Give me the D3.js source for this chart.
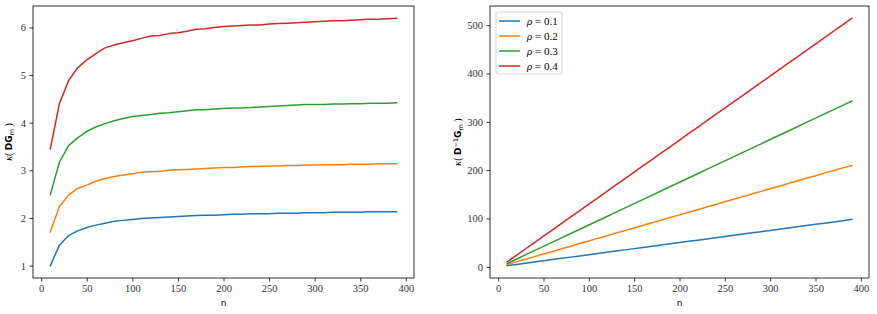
<!DOCTYPE html>
<html>
<head>
<meta charset="utf-8">
<script src="https://cdnjs.cloudflare.com/ajax/libs/d3/7.8.5/d3.min.js"></script>
<style>
    body { margin: 0; background: #fff; }
    text { font-family: "Liberation Serif", "DejaVu Serif", serif; }
</style>
</head>
<body>
<div id="chart"></div>
<script>

// data
var nValues = [10, 20, 30, 40, 50, 60, 70, 80, 90, 100, 110, 120, 130, 140, 150, 160, 170, 180, 190, 200,
    210, 220, 230, 240, 250, 260, 270, 280, 290, 300, 310, 320, 330, 340, 350, 360, 370, 380, 390];

var rhoLabels = ['0.1', '0.2', '0.3', '0.4'];
var colors = ['#1f77b4', '#ff7f0e', '#2ca02c', '#d62728'];

// kappa(DG_m)
var leftRho1 = [1.00, 1.43, 1.63, 1.73, 1.80, 1.85, 1.89, 1.93, 1.95, 1.97, 1.99, 2.00, 2.01, 2.02, 2.03, 2.04, 2.05, 2.06, 2.06, 2.07,
    2.08, 2.08, 2.09, 2.09, 2.09, 2.10, 2.10, 2.10, 2.11, 2.11, 2.11, 2.12, 2.12, 2.12, 2.12, 2.13, 2.13, 2.13, 2.13];
var leftRho2 = [1.71, 2.24, 2.48, 2.62, 2.69, 2.77, 2.83, 2.87, 2.90, 2.93, 2.96, 2.97, 2.98, 3.00, 3.01, 3.02, 3.03, 3.04, 3.05, 3.06,
    3.06, 3.07, 3.08, 3.08, 3.09, 3.09, 3.10, 3.10, 3.11, 3.11, 3.12, 3.12, 3.12, 3.13, 3.13, 3.13, 3.14, 3.14, 3.14];
var leftRho3 = [2.49, 3.17, 3.52, 3.68, 3.82, 3.91, 3.98, 4.04, 4.09, 4.13, 4.15, 4.17, 4.20, 4.21, 4.23, 4.25, 4.27, 4.27, 4.29, 4.30,
    4.31, 4.31, 4.32, 4.33, 4.34, 4.35, 4.36, 4.37, 4.38, 4.38, 4.38, 4.39, 4.39, 4.40, 4.40, 4.41, 4.41, 4.41, 4.42];
var leftRho4 = [3.45, 4.40, 4.88, 5.15, 5.32, 5.45, 5.57, 5.63, 5.68, 5.72, 5.77, 5.82, 5.83, 5.87, 5.89, 5.92, 5.96, 5.97, 6.00, 6.02,
    6.03, 6.04, 6.05, 6.05, 6.07, 6.08, 6.09, 6.10, 6.11, 6.12, 6.13, 6.14, 6.14, 6.15, 6.16, 6.17, 6.17, 6.18, 6.19];

// kappa(D^-1 G_m)
var rightRho1 = [2.5, 5.0, 7.5, 10.0, 12.6, 15.1, 17.6, 20.1, 22.6, 25.1, 27.6, 30.1, 32.6, 35.1, 37.7, 40.2, 42.7, 45.2, 47.7, 50.2,
    52.7, 55.2, 57.7, 60.2, 62.8, 65.3, 67.8, 70.3, 72.8, 75.3, 77.8, 80.3, 82.8, 85.3, 87.9, 90.4, 92.9, 95.4, 98.4];
var rightRho2 = [4.8, 10.3, 15.7, 21.1, 26.5, 31.9, 37.3, 42.7, 48.1, 53.5, 58.9, 64.3, 69.7, 75.1, 80.5, 85.9, 91.3, 96.7, 102.1, 107.5,
    112.9, 118.3, 123.7, 129.1, 134.5, 139.9, 145.3, 150.7, 156.1, 161.5, 166.9, 172.3, 177.7, 183.1, 188.5, 193.9, 199.3, 204.7, 209.2];
var rightRho3 = [7.0, 15.8, 24.7, 33.5, 42.4, 51.2, 60.0, 68.9, 77.7, 86.6, 95.4, 104.2, 113.1, 121.9, 130.8, 139.6, 148.4, 157.3, 166.1, 175.0,
    183.8, 192.6, 201.5, 210.3, 219.2, 228.0, 236.8, 245.7, 254.5, 263.4, 272.2, 281.0, 289.9, 298.7, 307.6, 316.4, 325.2, 334.1, 342.9];
var rightRho4 = [10.4, 23.7, 36.9, 50.2, 63.4, 76.7, 89.9, 103.2, 116.4, 129.7, 142.9, 156.2, 169.4, 182.7, 195.9, 209.2, 222.4, 235.7, 248.9, 262.2,
    275.4, 288.7, 301.9, 315.2, 328.4, 341.7, 354.9, 368.2, 381.4, 394.7, 407.9, 421.2, 434.4, 447.7, 460.9, 474.2, 487.4, 500.7, 514.0];

var xTicks = [0, 50, 100, 150, 200, 250, 300, 350, 400];
var leftYTicks = [1, 2, 3, 4, 5, 6];
var rightYTicks = [0, 100, 200, 300, 400, 500];


var svg = d3.select('#chart')
    .append('svg')
    .attr('width', 877)
    .attr('height', 314);


function drawPanel(params) {
    var attrs = params;

    var calc = {};
    calc.width = attrs.right - attrs.left;
    calc.height = attrs.bottom - attrs.top;

    // matplotlib style 5% margins
    var yMin = d3.min(attrs.series, s => d3.min(s));
    var yMax = d3.max(attrs.series, s => d3.max(s));
    var yPad = (yMax - yMin) * 0.05;
    var xPad = (d3.max(nValues) - d3.min(nValues)) * 0.05;

    var x = d3.scaleLinear()
        .domain([d3.min(nValues) - xPad, d3.max(nValues) + xPad])
        .range([0, calc.width]);

    var y = d3.scaleLinear()
        .domain([yMin - yPad, yMax + yPad])
        .range([calc.height, 0]);

    var g = svg.append('g')
        .attr('transform', 'translate(' + attrs.left + ',' + attrs.top + ')');

    // lines
    var line = d3.line()
        .x((d, i) => x(nValues[i]))
        .y(d => y(d));

    g.selectAll('path.series')
        .data(attrs.series)
        .enter()
        .append('path')
        .attr('class', 'series')
        .attr('d', line)
        .attr('fill', 'none')
        .attr('stroke', (d, i) => colors[i])
        .attr('stroke-width', 1.5)
        .attr('stroke-linejoin', 'round')
        .attr('stroke-linecap', 'square');

    // axes
    var xAxis = g.append('g')
        .attr('transform', 'translate(0,' + calc.height + ')')
        .call(d3.axisBottom(x).tickValues(xTicks).tickSize(3.5).tickPadding(3.5).tickFormat(d3.format('d')));

    var yAxis = g.append('g')
        .call(d3.axisLeft(y).tickValues(attrs.yTicks).tickSize(3.5).tickPadding(3.5).tickFormat(d3.format('d')));

    [xAxis, yAxis].forEach(a => {
        a.attr('font-family', null).attr('font-size', null);
        a.select('.domain').remove();
        a.selectAll('line').attr('stroke', '#000').attr('stroke-width', 0.8);
        a.selectAll('text')
            .attr('fill', '#333')
            .style('font-size', '10.5px')
            .style('font-family', '"Liberation Serif", serif');
    });

    // frame
    g.append('rect')
        .attr('width', calc.width)
        .attr('height', calc.height)
        .attr('fill', 'none')
        .attr('stroke', '#000')
        .attr('stroke-width', 0.8);

    // x label
    g.append('text')
        .attr('x', calc.width / 2)
        .attr('y', calc.height + 28)
        .attr('text-anchor', 'middle')
        .style('font-size', '9px')
        .style('font-family', '"DejaVu Sans", sans-serif')
        .text('n');

    // y label
    var yl = g.append('text')
        .attr('transform', 'translate(' + attrs.yLabelX + ',' + (calc.height / 2) + ') rotate(-90)')
        .attr('text-anchor', 'middle')
        .style('font-size', '10px');

    yl.append('tspan').style('font-style', 'italic').text('κ');
    yl.append('tspan').text('( ');
    attrs.yLabelParts.forEach(p => {
        var t = yl.append('tspan')
            .style('font-family', '"DejaVu Sans", sans-serif')
            .style('font-size', p.small ? '6.5px' : '9px')
            .text(p.text);
        if (p.dy) t.attr('dy', p.dy);
        if (p.bold) t.style('font-weight', 'bold');
    });
    yl.append('tspan').attr('dy', attrs.yLabelReset).text(' )');

    // legend
    if (attrs.legend) {
        var lg = g.append('g').attr('transform', 'translate(6,6)');
        lg.append('rect')
            .attr('width', 66)
            .attr('height', 62)
            .attr('rx', 2)
            .attr('fill', '#fff')
            .attr('fill-opacity', 0.8)
            .attr('stroke', '#ccc')
            .attr('stroke-width', 0.8);

        var item = lg.selectAll('g.item')
            .data(rhoLabels)
            .enter()
            .append('g')
            .attr('class', 'item')
            .attr('transform', (d, i) => 'translate(0,' + (9 + i * 15) + ')');

        item.append('line')
            .attr('x1', 3).attr('x2', 24)
            .attr('stroke', (d, i) => colors[i])
            .attr('stroke-width', 1.5);

        var lt = item.append('text')
            .attr('x', 31)
            .attr('y', 4)
            .style('font-size', '11px');
        lt.append('tspan').style('font-style', 'italic').text('ρ');
        lt.append('tspan').text(d => ' = ' + d);
    }
}


drawPanel({
    left: 33, right: 414, top: 6, bottom: 278,
    series: [leftRho1, leftRho2, leftRho3, leftRho4],
    yTicks: leftYTicks,
    yLabelX: -21,
    yLabelParts: [{ text: 'DG', bold: true }, { text: 'm', small: true, dy: 2 }],
    yLabelReset: -2,
    legend: false
});

drawPanel({
    left: 490, right: 869, top: 6, bottom: 278,
    series: [rightRho1, rightRho2, rightRho3, rightRho4],
    yTicks: rightYTicks,
    yLabelX: -29,
    yLabelParts: [
        { text: 'D', bold: true },
        { text: '−1', small: true, dy: -3.5 },
        { text: 'G', bold: true, dy: 3.5 },
        { text: 'm', small: true, dy: 2 }
    ],
    yLabelReset: -2,
    legend: true
});

</script>
</body>
</html>
